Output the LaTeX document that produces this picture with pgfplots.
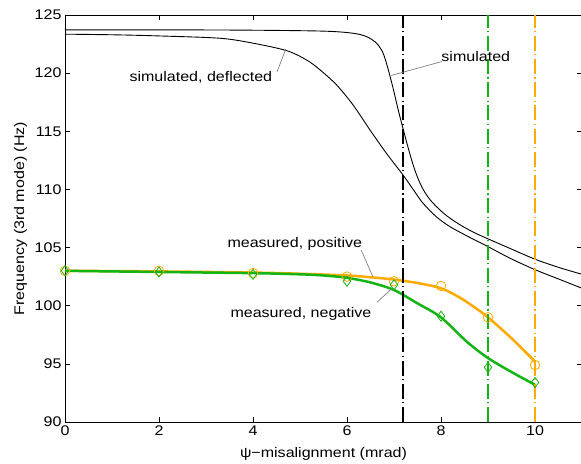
\documentclass[border=0pt]{standalone}
\usepackage{fontspec}
\setmainfont{Liberation Sans}[FakeStretch=1.15]
\usepackage{pgfplots}
\pgfplotsset{compat=1.18}
\usetikzlibrary{calc}
\definecolor{mgreen}{RGB}{20,180,20}
\definecolor{morange}{RGB}{255,170,0}

\pgfplotstableread{
x y
0 123.72
3.3 123.71
5.43 123.62
6.13 123.43
6.42 123.13
6.63 122.57
6.77 121.7
6.88 120.27
6.99 118.55
7.09 116.83
7.2 115.11
7.3 113.6
7.4 112.2
7.5 111.05
7.62 110.0
7.78 109.05
8.0 108.15
8.2 107.5
8.45 106.85
8.7 106.3
9 105.75
9.5 104.87
10 104.0
10.5 103.3
11 102.7
}\simulated

\pgfplotstableread{
x y
0 123.35
1 123.3
2 123.2
3.3 123.0
4.01 122.57
4.72 121.93
5.14 121.13
5.43 120.27
5.78 118.98
6.13 117.26
6.49 115.11
6.84 113.1
7.2 111.2
7.45 109.75
7.62 108.8
7.9 107.65
8.19 106.8
8.6 105.9
9 105.08
9.47 104.08
10 103.1
10.5 102.3
11 101.5
}\deflected

\pgfplotstableread{
x y
0 103.0
2 102.95
4 102.85
5 102.75
6 102.6
6.5 102.45
7 102.25
7.5 101.95
8 101.5
8.4 100.7
8.7 99.9
9 99.0
9.5 97.2
10 95.2
}\posfit

\pgfplotstableread{
x y
0 103.0
2 102.9
4 102.8
5 102.7
5.5 102.6
6 102.4
6.5 102.0
7 101.35
7.5 100.2
8 99.0
8.55 96.9
9 95.5
9.5 94.3
10 93.2
}\negfit

\pgfplotstableread{
x y
0 103.0
2 103.0
4 102.8
6 102.5
7 102.1
8 101.7
9 99.0
10 94.9
}\posmeas

\pgfplotstableread{
x y
0 103.0
2 102.9
4 102.7
6 102.1
7 101.8
8 99.1
9 94.7
10 93.4
}\negmeas

\begin{document}
\begin{tikzpicture}
\begin{axis}[
  name=ax,
  scale only axis,
  width=517bp, height=407bp,
  xmin=0, xmax=11, ymin=90, ymax=125,
  xtick={0,2,4,6,8,10}, ytick={90,95,100,105,110,115,120,125},
  tick align=inside, major tick length=5bp,
  tick style={black, line width=0.6bp},
  axis line style={black, line width=0.9bp},
  /pgf/number format/assume math mode=true,
  tick label style={font=\fontsize{14}{16}\selectfont},
  label style={font=\fontsize{14}{16}\selectfont},
  xlabel={ψ−misalignment (mrad)},
  ylabel={Frequency (3rd mode) (Hz)},
  xlabel style={at={(axis description cs:0.5,-0.086)}, anchor=base},
  ylabel style={at={(axis description cs:-0.079,0.5)}, anchor=base},
]
% simulated curves
\addplot[black, line width=0.9bp, smooth] table {\simulated};
\addplot[black, line width=0.9bp, smooth] table {\deflected};
% fitted measured curves
\addplot[morange, line width=2.5bp, smooth] table {\posfit};
\addplot[mgreen, line width=2.5bp, smooth] table {\negfit};
% measured points
\addplot[only marks, mark=o, morange, mark size=4.8bp, line width=0.8bp] table {\posmeas};
\addplot[only marks, mark=diamond, mgreen, mark size=5bp, line width=0.8bp] table {\negmeas};
% limit lines
\addplot[black, line width=2bp, dash pattern=on 15bp off 3.5bp on 1.2bp off 3.5bp] coordinates {(7.2,90) (7.2,125)};
\addplot[mgreen, line width=2bp, dash pattern=on 15bp off 3.5bp on 1.2bp off 3.5bp] coordinates {(9,90) (9,125)};
\addplot[morange, line width=2bp, dash pattern=on 15bp off 3.5bp on 1.2bp off 3.5bp] coordinates {(10,90) (10,125)};
% labels with leader lines
\draw[gray, line width=0.7bp] (axis cs:4.51,120.1) -- (axis cs:4.70,122.1);
\node[font=\fontsize{14}{16}\selectfont] at (axis cs:2.89,119.6) {simulated, deflected};
\draw[gray, line width=0.7bp] (axis cs:8.02,121.0) -- (axis cs:6.94,119.8);
\node[font=\fontsize{14}{16}\selectfont] at (axis cs:8.74,121.4) {simulated};
\draw[gray, line width=0.7bp] (axis cs:6.30,104.8) -- (axis cs:6.55,102.5);
\node[font=\fontsize{14}{16}\selectfont] at (axis cs:4.89,105.3) {measured, positive};
\draw[gray, line width=0.7bp] (axis cs:6.64,100.3) -- (axis cs:6.96,101.5);
\node[font=\fontsize{14}{16}\selectfont] at (axis cs:5.02,99.3) {measured, negative};
\end{axis}
\pgfresetboundingbox
\path ($(ax.south west)+(-65bp,-42bp)$) rectangle ($(ax.south west)+(516bp,422bp)$);
\end{tikzpicture}
\end{document}
